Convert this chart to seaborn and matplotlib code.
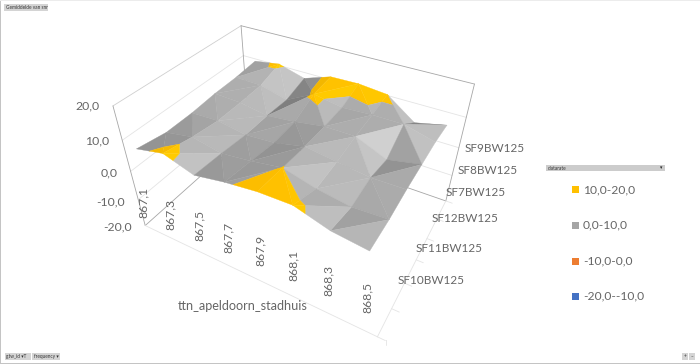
import numpy as np, matplotlib
matplotlib.use("Agg")
import matplotlib.pyplot as plt
from matplotlib.patches import Rectangle
from mpl_toolkits.mplot3d.art3d import Poly3DCollection
import seaborn as sns

frequencies = ["867,1","867,3","867,5","867,7","867,9","868,1","868,3","868,5"]
datarates = ["SF10BW125","SF11BW125","SF12BW125","SF7BW125","SF8BW125","SF9BW125"]
z_ticks = ["-20,0","-10,0","0,0","10,0","20,0"]
band_labels = ["10,0-20,0","0,0-10,0","-10,0-0,0","-20,0--10,0"]
band_edges = [(10,20),(0,10),(-10,0),(-20,-10)]
snr_SF10 = [9.0,11.0,8.0,9.7,10.8,11.0,8.0,6.8]
snr_SF11 = [7.5,9.2,7.4,8.5,10.05,7.5,6.0,6.5]
snr_SF12 = [7.6,8.0,6.5,7.2,9.3,8.0,6.8,7.0]
snr_SF7  = [8.3,8.0,6.5,7.5,9.0,9.0,5.0,7.0]
snr_SF8  = [8.5,8.3,6.0,10.6,9.0,9.5,9.5,7.0]
snr_SF9  = [9.2,10.5,8.0,11.0,11.2,10.3,3.8,6.0]
series_name = "ttn_apeldoorn_stadhuis"
Z = np.array([snr_SF10,snr_SF11,snr_SF12,snr_SF7,snr_SF8,snr_SF9])

sns.set_theme(style="white")
plt.rcParams['font.family'] = ['Lato','DejaVu Sans']
band_colors = sns.color_palette(["#FFC000","#A5A5A5","#ED7D31","#4472C4"])
W,H = 700,364
TXT = "#666666"
fig = plt.figure(figsize=(7,3.64), dpi=100)
S,CX,CY = 1902.18,299.58,-159.20
L=S*0.185; l=CX-0.095*S; b=H+CY-0.095*S
ax = fig.add_axes([l/W,b/H,L/W,L/H], projection='3d')
ax.set_xlim(0,8,view_margin=0); ax.set_ylim(0,6,view_margin=0); ax.set_zlim(-20,20,view_margin=0)
ax.view_init(elev=38.395,azim=-60.249,roll=0)
ax.set_proj_type('persp',focal_length=0.2661)
ax.set_box_aspect((1.3576,1.0,0.7644))
ax.set_axis_off()

def line3(p,q,c,lw=.6,zo=1):
    ax.plot(*zip(p,q),color=c,lw=lw,clip_on=False,zorder=zo)
EDGE="#a6a6a6"; GRID="#e4e4e4"
for z in (-10,0,10):
    line3((0,0,z),(0,6,z),GRID); line3((0,6,z),(8,6,z),GRID)
line3((0,0,20),(0,6,20),"#cfcfcf"); line3((0,6,20),(8,6,20),EDGE)
line3((0,0,20),(0,0,-20),EDGE); line3((8,6,20),(8,6,-20),EDGE); line3((0,6,20),(0,6,-20),EDGE)
line3((0,0,-20),(0,6,-20),EDGE); line3((0,6,-20),(8,6,-20),EDGE)
line3((0,0,-20),(8,0,-20),GRID); line3((8,0,-20),(8,6,-20),GRID)
for k in range(7):
    line3((8,k,-20),(8.22,k,-20),GRID)

xs=np.arange(8)+.5; ys=np.arange(6)*6/5
def clip(poly,lo,hi):
    def cut(P,keep,val):
        out=[]
        for a,b_ in zip(P,P[1:]+P[:1]):
            ia,ib=keep(a[2]),keep(b_[2])
            if ia: out.append(a)
            if ia!=ib:
                t=(val-a[2])/(b_[2]-a[2])
                out.append(tuple(a[k]+t*(b_[k]-a[k]) for k in range(3)))
        return out
    P=cut(list(poly),lambda z:z>=lo,lo)
    if P: P=cut(P,lambda z:z<=hi,hi)
    return P
scale=np.array([1.3576/8,1/6,0.7644/40])
LIGHT=np.array([0.85,-0.3,0.45]); LIGHT=LIGHT/np.linalg.norm(LIGHT)
polys=[];cols=[]
for j in range(5):
    for i in range(7):
        a=(xs[i],ys[j],Z[j,i]); b_=(xs[i+1],ys[j],Z[j,i+1]); c=(xs[i+1],ys[j+1],Z[j+1,i+1]); d=(xs[i],ys[j+1],Z[j+1,i])
        if a[2]+c[2]>=b_[2]+d[2]: tris=[(a,b_,c),(a,c,d)]
        else: tris=[(a,b_,d),(b_,c,d)]
        for t in tris:
            v=np.array(t)*scale
            n=np.cross(v[1]-v[0],v[2]-v[0]); n=n/np.linalg.norm(n)
            f=1.04+0.6*(n@LIGHT-LIGHT[2])
            f=max(.75,min(1.32,f))
            for idx,((lo,hi),col) in enumerate(zip(band_edges,band_colors)):
                P=clip(t,lo,hi)
                if len(P)>=3:
                    g=f if idx else f**.35
                    polys.append(P); cols.append(tuple(min(1,x*g) for x in col))
pc=Poly3DCollection(polys,facecolors=cols,edgecolors=cols,linewidths=.25,clip_on=False,zorder=5)
ax.add_collection3d(pc)
pc.set_clip_on(False)

def T(px,py,s,**kw):
    kw.setdefault('color',TXT); kw.setdefault('fontsize',8.8)
    return fig.text(px/W,1-py/H,s,**kw)
def vline(x,y0,y1,c=GRID):
    fig.add_artist(plt.Line2D([x/W]*2,[1-y0/H,1-y1/H],color=c,lw=.6,zorder=-1))
def seg(x0,y0,x1,y1,c=GRID):
    fig.add_artist(plt.Line2D([x0/W,x1/W],[1-y0/H,1-y1/H],color=c,lw=.6,zorder=-1))

for s,(r,y) in zip(z_ticks,[(132,227),(125,202),(118,173),(109,141),(100,106)]):
    T(r,y,s,ha='right',va='center')
for s,(x,y) in zip(frequencies,[(143,202),(170,214),(199,225),(228,237),(260,250),(293,265),(328,280),(367,297)]):
    T(x,y,s,ha='center',va='center',rotation=90)
for x,y0,y1 in [(131,172,237),(157,184,224),(183,195,235),(212,209,247),(243,222,260),(276,235,274),(311,249,289),(348,265,304),(386,281,345)]:
    vline(x,y0,y1)
seg(131,173,386,281)
for s,(x,y) in zip(datarates,[(431,281),(449,248),(465,219),(476,192.5),(488,170),(495,148)]):
    T(x,y,s,ha='center',va='center',fontsize=8.5)
T(243,306,series_name,ha='center',va='center',fontsize=9.1)
for s,c,y in zip(band_labels,band_colors,[189.5,225,261,296]):
    fig.add_artist(Rectangle((571.5/W,1-(y+3.5)/H),7/W,7/H,color=c,transform=fig.transFigure,lw=0))
    T(583,y,s,ha='left',va='center',fontsize=8.7)
def button(x0,y0,x1,y1,s,tx=None,color="#d4d4d4"):
    fig.add_artist(Rectangle((x0/W,1-y1/H),(x1-x0)/W,(y1-y0)/H,color=color,transform=fig.transFigure,lw=0))
    if s: T(tx if tx else x0+1.5,(y0+y1)/2,s,fontsize=3.4,color="#333333",ha='left',va='center')
button(4,4,48,11,"Gemiddelde van snr")
button(5,353,31,360,"gtw_id ▾T")
button(32,353,60,360,"frequency ▾")
button(546,165,665,171,"datarate ",color="#cccccc")
T(661,168,"▾",fontsize=3.4,color="#222222",ha='center',va='center')
button(682,353,688,360,"+",tx=683.5); button(689,353,695,360,"–",tx=690.5)
fig.add_artist(Rectangle((0,0),1.2/W,1,color="#c4c4c4",transform=fig.transFigure,lw=0))
fig.add_artist(Rectangle((0,0),1,1.2/H,color="#c4c4c4",transform=fig.transFigure,lw=0))
fig.add_artist(Rectangle((0,1-1/H),1,1/H,color="#ececec",transform=fig.transFigure,lw=0))
fig.savefig('out.png',dpi=100)
